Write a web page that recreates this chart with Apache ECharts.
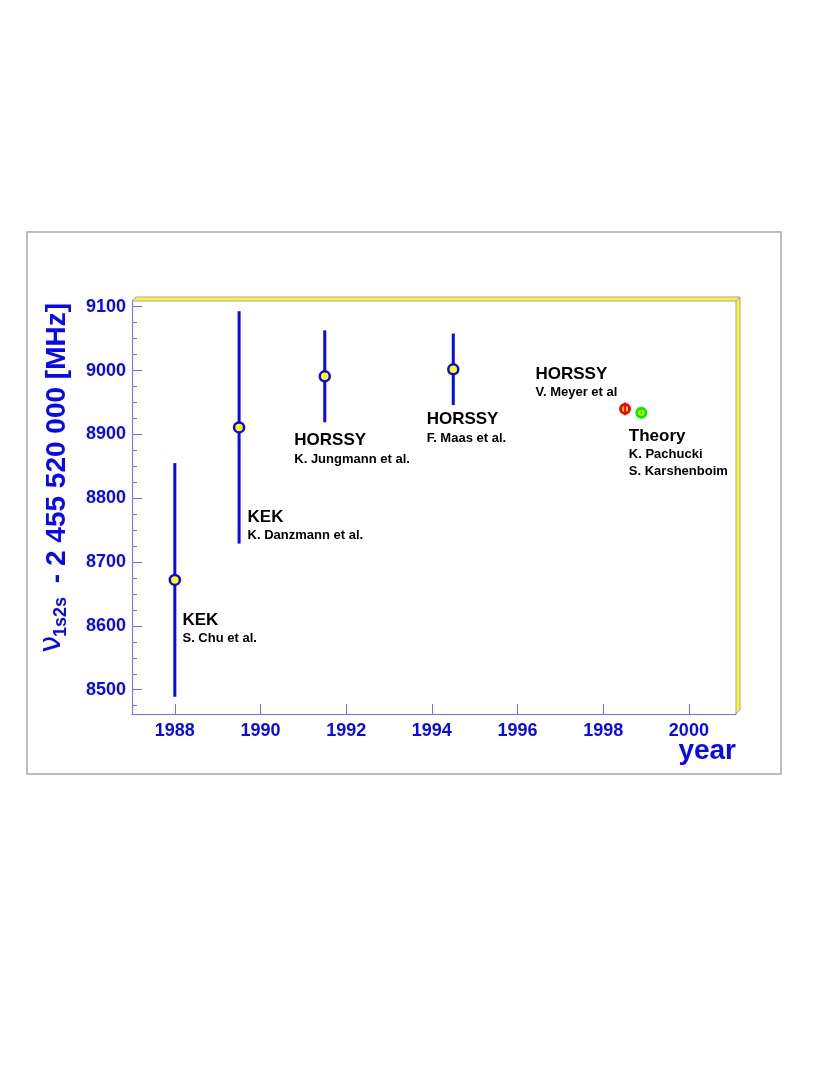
<!DOCTYPE html>
<html lang="en">
<head>
  <meta charset="UTF-8" />
  <title>Muonium 1s-2s frequency</title>
  <script src="https://cdn.jsdelivr.net/npm/echarts@6/dist/echarts.min.js"></script>
  <style>
    html, body { margin: 0; padding: 0; background: #fff; }
    #chart { width: 830px; height: 1075px; }
  </style>
</head>
<body>
  <div id="chart"></div>

  <script>
    // --- data ---
    const earlyYears = [1988.0, 1989.5, 1991.5, 1994.5];
    const earlyValues = [8672, 8911, 8991, 9002];
    const earlyErrors = [183, 182, 72, 56];

    const meyerYears = [1998.51];
    const meyerValues = [8940];
    const meyerErrors = [10];

    const theoryYears = [1998.89];
    const theoryValues = [8934];
    const theoryErrors = [3];

    const xTicks = [1988, 1990, 1992, 1994, 1996, 1998, 2000];
    const yTicks = [8500, 8600, 8700, 8800, 8900, 9000, 9100];
    const yMinorTicks = [8475, 8525, 8550, 8575, 8625, 8650, 8675, 8725, 8750, 8775,
                         8825, 8850, 8875, 8925, 8950, 8975, 9025, 9050, 9075];

    // annotation anchors (top-left corner of each text block)
    const noteYears = [1988.19, 1989.71, 1990.80, 1993.89, 1996.43, 1998.61];
    const noteValues = [8624, 8785, 8905, 8938, 9009, 8912];
    const noteTitles = ['KEK', 'KEK', 'HORSSY', 'HORSSY', 'HORSSY', 'Theory'];
    const noteAuthors = [
      ['S. Chu et al.'],
      ['K. Danzmann et al.'],
      ['K. Jungmann et al.'],
      ['F. Maas et al.'],
      ['V. Meyer et al'],
      ['K. Pachucki', 'S. Karshenboim']
    ];

    const FONT = '"Liberation Sans", Arial, Helvetica, sans-serif';
    const BLUE = '#0808f6';
    const AXIS = '#6c6cff';
    const L = 132, R = 736, T = 301, B = 714;

    const chart = echarts.init(document.getElementById('chart'));

    function errorBars(xs, ys, es, color, width, z) {
      return {
        type: 'custom',
        z: z,
        data: xs.map((x, i) => [x, ys[i], es[i]]),
        renderItem: function (params, api) {
          const p1 = api.coord([api.value(0), api.value(1) - api.value(2)]);
          const p2 = api.coord([api.value(0), api.value(1) + api.value(2)]);
          return {
            type: 'line',
            shape: { x1: p1[0], y1: p1[1], x2: p2[0], y2: p2[1] },
            style: { stroke: color, lineWidth: width }
          };
        }
      };
    }

    function markers(xs, ys, ring, size, border) {
      return {
        type: 'scatter',
        z: 3,
        symbol: 'circle',
        symbolSize: size,
        data: xs.map((x, i) => [x, ys[i]]),
        itemStyle: { color: '#ffff00', borderColor: ring, borderWidth: border, opacity: 1 }
      };
    }

    const plain = v => String(v);

    const option = {
      animation: false,
      backgroundColor: '#fff',
      grid: { left: L, right: 830 - R, top: T, bottom: 1075 - B },
      xAxis: {
        type: 'value',
        min: 1987,
        max: 2001.1,
        splitLine: { show: false },
        axisLine: { show: true, lineStyle: { color: AXIS, width: 1 } },
        axisTick: { show: true, inside: true, length: 10, customValues: xTicks, lineStyle: { color: AXIS } },
        axisLabel: {
          customValues: xTicks, formatter: plain, color: BLUE, fontFamily: FONT, fontWeight: 'bold',
          fontSize: 18, margin: 8
        }
      },
      yAxis: [
        {
          type: 'value',
          min: 8462,
          max: 9109,
          position: 'left',
          splitLine: { show: false },
          axisLine: { show: true, lineStyle: { color: AXIS, width: 1 } },
          axisTick: { show: true, inside: true, length: 10, customValues: yTicks, lineStyle: { color: AXIS } },
          axisLabel: {
            customValues: yTicks, formatter: plain, color: BLUE, fontFamily: FONT, fontWeight: 'bold',
            fontSize: 18, margin: 6
          }
        },
        {
          type: 'value',
          min: 8462,
          max: 9109,
          position: 'left',
          splitLine: { show: false },
          axisLine: { show: false },
          axisLabel: { show: false },
          axisTick: { show: true, inside: true, length: 5, customValues: yMinorTicks, lineStyle: { color: AXIS } }
        }
      ],
      graphic: [
        {
          type: 'rect',
          shape: { x: 27, y: 232, width: 754, height: 542 },
          style: { fill: 'none', stroke: '#a8a8a8', lineWidth: 1.5 },
          silent: true
        },
        {
          type: 'polygon',
          shape: { points: [[L, T], [R, T], [R + 4, T - 4], [L + 4, T - 4]] },
          style: { fill: '#ffff00', stroke: '#9a9aff', lineWidth: 1 },
          silent: true
        },
        {
          type: 'polygon',
          shape: { points: [[R, T], [R + 4, T - 4], [R + 4, B - 4], [R, B]] },
          style: { fill: '#ffff00', stroke: '#9a9aff', lineWidth: 1 },
          silent: true
        },
        {
          type: 'text',
          x: R, y: 751,
          style: {
            text: 'year', fill: BLUE, font: 'bold 28px ' + FONT,
            align: 'right', verticalAlign: 'middle'
          }
        },
        {
          type: 'text',
          x: 57, y: 303, rotation: Math.PI / 2,
          style: {
            text: '- 2 455 520 000 [MHz]', fill: BLUE, font: 'bold 28px ' + FONT,
            align: 'right', verticalAlign: 'middle'
          }
        },
        {
          type: 'text',
          x: 61, y: 617, rotation: Math.PI / 2,
          style: {
            text: '1s2s', fill: BLUE, font: 'bold 18px ' + FONT,
            align: 'center', verticalAlign: 'middle'
          }
        },
        {
          type: 'text',
          x: 52, y: 644, rotation: Math.PI / 2,
          style: {
            text: 'ν', fill: BLUE, font: '30px "DejaVu Sans", sans-serif',
            align: 'center', verticalAlign: 'middle'
          }
        }
      ],
      series: [
        errorBars(earlyYears, earlyValues, earlyErrors, BLUE, 3, 2),
        markers(earlyYears, earlyValues, BLUE, 10, 2.5),
        markers(meyerYears, meyerValues, '#ff0000', 9, 3),
        markers(theoryYears, theoryValues, '#00ee00', 9, 3),
        errorBars(meyerYears, meyerValues, meyerErrors, '#ff0000', 2, 4),
        errorBars(theoryYears, theoryValues, theoryErrors, '#00ee00', 2, 4),
        {
          type: 'scatter',
          z: 5,
          symbolSize: 1,
          itemStyle: { color: 'rgba(0,0,0,0)', opacity: 1 },
          data: noteYears.map((x, i) => [x, noteValues[i], i]),
          label: {
            show: true,
            position: [0, 0],
            align: 'left',
            verticalAlign: 'top',
            color: '#000',
            textBorderWidth: 0,
            formatter: function (p) {
              const i = p.value[2];
              const lines = ['{t|' + noteTitles[i] + '}'];
              noteAuthors[i].forEach(a => lines.push('{a|' + a + '}'));
              return lines.join('\n');
            },
            rich: {
              t: { fontFamily: FONT, fontWeight: 'bold', fontSize: 17, lineHeight: 20, color: '#000' },
              a: { fontFamily: FONT, fontWeight: 'bold', fontSize: 13, lineHeight: 17, color: '#000' }
            }
          }
        }
      ]
    };

    chart.setOption(option);
  </script>
</body>
</html>
